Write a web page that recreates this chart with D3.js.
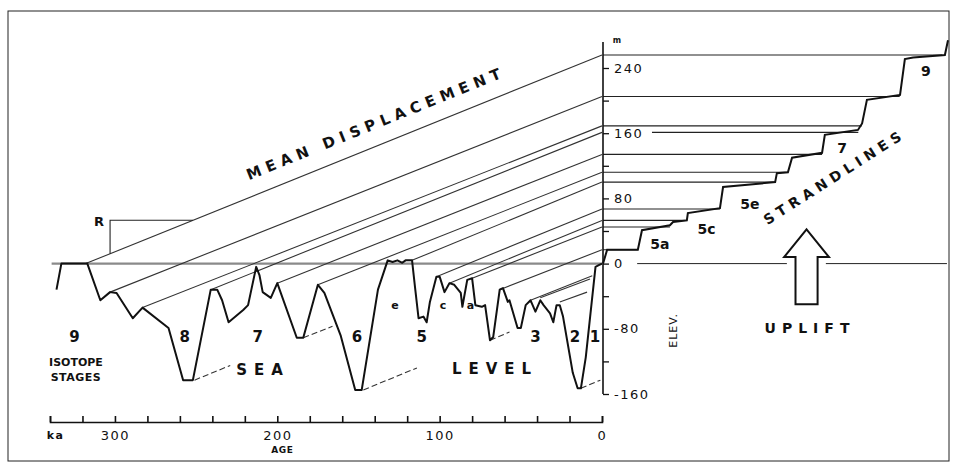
<!DOCTYPE html>
<html>
<head>
<meta charset="utf-8">
<script src="https://cdn.jsdelivr.net/npm/d3@7"></script>
<style>
  body { margin: 0; background: #fff; }
  text { font-family: "DejaVu Sans", sans-serif; fill: #111; }
</style>
</head>
<body>
<div id="chart"></div>
<script>

// sea level curve: age (ka) and elevation (m)
var curveAge  = [336,333,317,309,303,299,289,283,267,258, 252,241,237,234,230,221,218,213,211,209,
                 204,200,188,184,175,171,161,152,148,138, 132,129,126,123,121,117,115,113,110,108,
                 106,102,100,97,94,91,87,86,83,80, 78,74,72,69,67,63,61,58,57,52,
                 50,47,44,41,38,36,32,30,28,26, 24,18,15,13,10,4,2,0];
var curveElev = [-32,0,0,-45,-35,-36,-67,-54,-79,-143, -143,-32,-32,-45,-72,-57,-51,-4,-14,-35,
                 -42,-24,-91,-91,-26,-36,-88,-155,-155,-32, 4,2,4,1,4,4,-32,-67,-65,-72,
                 -47,-16,-16,-35,-24,-26,-36,-53,-20,-18, -51,-53,-51,-94,-90,-32,-30,-47,-45,-79,
                 -79,-51,-45,-59,-45,-51,-61,-72,-51,-51, -65,-134,-153,-153,-115,-4,-2,0];

// mean displacement lines: start on the curve, end on the axis at the strandline height
var lineStartAge  = [318, 303, 283, 241, 200, 175, 117, 102, 94, 80, 63];
var lineStartElev = [0, -35, -54, -32, -24, -26, 4, -16, -24, -18, -32];
var strandElev    = [256, 205, 169, 161, 134, 112, 100, 67, 53, 45, 17];
// strandlines on the right (distance units 0-100)
var strandStart   = [0, 0, 0, 14.2, 0, 0, 0, 0, 0, 0, 0];
var strandEnd     = [98.3, 86, 75, 74, 63.5, 53.6, 49.9, 33.9, 24.3, 19.4, 10.1];

// short lines that stop on the stage 1 rise
var shortStartAge  = [44, 38, 26];
var shortStartElev = [-45, -42, -47];
var shortEndAge    = [6, 7.4, 9.2];
var shortEndElev   = [-15, -19, -35];

// dashed lines from the lowstands
var dashStartAge  = [251, 184, 147, 69, 13];
var dashStartElev = [-143, -91, -155, -94, -153];
var dashEndAge    = [229, 166, 114, 57, 1];
var dashEndElev   = [-125, -77, -128, -84, -143];

// uplifted terrace profile (distance 0-100, elevation m)
var profDist = [0, 1.2, 10.1, 11.3, 19.4, 20.3, 24.3, 24.6, 33.9, 34.8, 49.9, 50.4, 53.6, 54.8,
                63.5, 64.3, 73.9, 75.1, 76.5, 86.1, 87.5, 89.9, 99.1, 100];
var profElev = [0, 17, 17, 41, 47, 51, 53, 62, 68, 94, 100, 111, 112, 130,
                136, 158, 164, 172, 201, 207, 251, 253, 256, 274];

// labels
var stageLabels = ['9', '8', '7', '6', '5', '3', '2', '1'];
var stageAge    = [325, 257, 212, 151, 111, 41, 16.6, 4.3];
var subLabels   = ['e', 'c', 'a'];
var subAge      = [127.5, 98, 81];
var rightLabels = ['9', '7', '5e', '5c', '5a'];
var rightDist   = [93.6, 69.3, 42.6, 30, 16.5];
var rightElev   = [237, 143, 74, 44, 25];
var ageTicks  = d3.range(340, -1, -20);
var elevTicks = d3.range(-160, 241, 40);

var width = 958, height = 468;

var x  = d3.scaleLinear().domain([340, 0]).range([50, 602]);
var y  = d3.scaleLinear().domain([-160, 240]).range([394, 68]);
var xd = d3.scaleLinear().domain([0, 100]).range([603, 948]);

var svg = d3.select('#chart')
    .append('svg')
    .attr('width', width)
    .attr('height', height);

// frame
svg.append('rect')
    .attr('x', 8).attr('y', 11)
    .attr('width', 941).attr('height', 450)
    .attr('fill', 'none')
    .attr('stroke', '#222')
    .attr('stroke-width', 1);

// zero line
svg.append('line')
    .attr('x1', x(339)).attr('x2', x(0))
    .attr('y1', y(0)).attr('y2', y(0))
    .attr('stroke', '#8a8a8a')
    .attr('stroke-width', 2.2);
[[9.9, 53.3], [64.6, 99.7]].forEach(function (s) {
    svg.append('line')
        .attr('x1', xd(s[0])).attr('x2', xd(s[1]))
        .attr('y1', y(0)).attr('y2', y(0))
        .attr('stroke', '#222')
        .attr('stroke-width', 1);
});

// mean displacement lines
svg.selectAll('.disp')
    .data(lineStartAge)
    .enter()
    .append('line')
    .attr('x1', (d) => x(d))
    .attr('y1', (d, i) => y(lineStartElev[i]))
    .attr('x2', x(0))
    .attr('y2', (d, i) => y(strandElev[i]))
    .attr('stroke', '#333')
    .attr('stroke-width', 1.1);

svg.selectAll('.short')
    .data(shortStartAge)
    .enter()
    .append('line')
    .attr('x1', (d) => x(d))
    .attr('y1', (d, i) => y(shortStartElev[i]))
    .attr('x2', (d, i) => x(shortEndAge[i]))
    .attr('y2', (d, i) => y(shortEndElev[i]))
    .attr('stroke', '#333')
    .attr('stroke-width', 1.1);

svg.selectAll('.dash')
    .data(dashStartAge)
    .enter()
    .append('line')
    .attr('x1', (d) => x(d))
    .attr('y1', (d, i) => y(dashStartElev[i]))
    .attr('x2', (d, i) => x(dashEndAge[i]))
    .attr('y2', (d, i) => y(dashEndElev[i]))
    .attr('stroke', '#333')
    .attr('stroke-width', 1.1)
    .attr('stroke-dasharray', '6,3');

// strandlines
svg.selectAll('.strand')
    .data(strandElev)
    .enter()
    .append('line')
    .attr('x1', (d, i) => xd(strandStart[i]))
    .attr('x2', (d, i) => xd(strandEnd[i]))
    .attr('y1', (d) => y(d))
    .attr('y2', (d) => y(d))
    .attr('stroke', '#222')
    .attr('stroke-width', 1.1);

// R bracket on the top line
var topLine = d3.scaleLinear().domain([lineStartAge[0], 0]).range([lineStartElev[0], strandElev[0]]);
svg.append('path')
    .attr('d', d3.line()([[x(303), y(topLine(303))], [x(303), y(topLine(252))], [x(252), y(topLine(252))]]))
    .attr('fill', 'none')
    .attr('stroke', '#222')
    .attr('stroke-width', 1.1);
svg.append('text')
    .attr('x', x(303) - 6).attr('y', y(topLine(252)) + 6)
    .attr('text-anchor', 'end')
    .style('font-size', '13px')
    .style('font-weight', 'bold')
    .text('R');

// sea level curve
var curveLine = d3.line()
    .x((d, i) => x(curveAge[i]))
    .y((d, i) => y(curveElev[i]));
svg.append('path')
    .attr('d', curveLine(curveAge))
    .attr('fill', 'none')
    .attr('stroke', '#111')
    .attr('stroke-width', 2)
    .attr('stroke-linejoin', 'round');

// terrace profile
var profLine = d3.line()
    .x((d, i) => xd(profDist[i]))
    .y((d, i) => y(profElev[i]));
svg.append('path')
    .attr('d', profLine(profDist))
    .attr('fill', 'none')
    .attr('stroke', '#111')
    .attr('stroke-width', 2);

// age axis
var ageAxis = d3.axisBottom(x)
    .tickValues(ageTicks)
    .tickSize(-6)
    .tickPadding(9)
    .tickFormat((d) => d === 340 ? 'ka' : (d % 100 === 0 ? d : ''));
var ga = svg.append('g')
    .attr('transform', 'translate(0,422)')
    .call(ageAxis);
ga.selectAll('path, line').attr('stroke', '#111').attr('stroke-width', 1.6);
ga.selectAll('text')
    .style('font-size', '13px')
    .style('letter-spacing', '1.5px')
    .style('font-family', '"DejaVu Sans", sans-serif')
    .attr('fill', '#111');
ga.selectAll('text').filter((d) => d === 340).attr('x', 5).style('font-size', '11px').style('font-weight', 'bold');

svg.append('text')
    .attr('x', x(200) + 5).attr('y', 453)
    .attr('text-anchor', 'middle')
    .style('font-size', '9px')
    .style('font-weight', 'bold')
    .style('letter-spacing', '0.5px')
    .text('AGE');

// elevation axis
var elevAxis = d3.axisRight(y)
    .tickValues(elevTicks)
    .tickSize(6)
    .tickPadding(5)
    .tickFormat((d) => d % 80 === 0 ? (d < 0 ? '-' + (-d) : d) : '');
var ge = svg.append('g')
    .attr('transform', 'translate(' + (x(0) + 1) + ',0)')
    .call(elevAxis);
ge.select('.domain').remove();
ge.selectAll('line').attr('stroke', '#111').attr('stroke-width', 1.3);
ge.selectAll('text')
    .style('font-size', '13px')
    .style('letter-spacing', '1.5px')
    .style('font-family', '"DejaVu Sans", sans-serif')
    .attr('fill', '#111');
svg.append('line')
    .attr('x1', x(0) + 1).attr('x2', x(0) + 1)
    .attr('y1', y(-160)).attr('y2', y(272))
    .attr('stroke', '#111')
    .attr('stroke-width', 1.6);
svg.append('text')
    .attr('x', x(0) + 15).attr('y', y(272) + 1)
    .attr('text-anchor', 'middle')
    .style('font-size', '8px')
    .style('font-weight', 'bold')
    .text('m');
svg.append('text')
    .attr('transform', 'translate(' + (x(0) + 75) + ',' + y(-82) + ') rotate(-90)')
    .attr('text-anchor', 'middle')
    .style('font-size', '11px')
    .style('letter-spacing', '1px')
    .text('ELEV.');

// stage labels
svg.selectAll('.stage')
    .data(stageLabels)
    .enter()
    .append('text')
    .attr('x', (d, i) => x(stageAge[i]))
    .attr('y', y(-89) + 6)
    .attr('text-anchor', 'middle')
    .style('font-size', '15px')
    .style('font-weight', 'bold')
    .text((d) => d);
svg.selectAll('.sub')
    .data(subLabels)
    .enter()
    .append('text')
    .attr('x', (d, i) => x(subAge[i]))
    .attr('y', y(-51) + 4)
    .attr('text-anchor', 'middle')
    .style('font-size', '11px')
    .style('font-weight', 'bold')
    .text((d) => d);
svg.selectAll('.right')
    .data(rightLabels)
    .enter()
    .append('text')
    .attr('x', (d, i) => xd(rightDist[i]))
    .attr('y', (d, i) => y(rightElev[i]) + 6)
    .attr('text-anchor', 'middle')
    .style('font-size', '14px')
    .style('font-weight', 'bold')
    .text((d) => d);

svg.append('text')
    .attr('x', x(324)).attr('y', 366)
    .attr('text-anchor', 'middle')
    .style('font-size', '11px')
    .style('font-weight', 'bold')
    .text('ISOTOPE');
svg.append('text')
    .attr('x', x(324)).attr('y', 381)
    .attr('text-anchor', 'middle')
    .style('font-size', '11px')
    .style('font-weight', 'bold')
    .style('letter-spacing', '0.5px')
    .text('STAGES');

svg.append('text')
    .attr('x', 263).attr('y', 375)
    .attr('text-anchor', 'middle')
    .style('font-size', '15px')
    .style('font-weight', 'bold')
    .style('letter-spacing', '7px')
    .text('SEA');
svg.append('text')
    .attr('x', 495).attr('y', 374)
    .attr('text-anchor', 'middle')
    .style('font-size', '15px')
    .style('font-weight', 'bold')
    .style('letter-spacing', '7px')
    .text('LEVEL');

// rotated titles
var slopeAngle = Math.atan2(y(lineStartElev[0]) - y(strandElev[0]), x(0) - x(lineStartAge[0])) * 180 / Math.PI;
svg.append('text')
    .attr('transform', 'translate(378,128) rotate(' + (-slopeAngle) + ')')
    .attr('text-anchor', 'middle')
    .style('font-size', '15px')
    .style('font-weight', 'bold')
    .style('letter-spacing', '5.5px')
    .text('MEAN DISPLACEMENT');
svg.append('text')
    .attr('transform', 'translate(837,181) rotate(-32.5)')
    .attr('text-anchor', 'middle')
    .style('font-size', '14px')
    .style('font-weight', 'bold')
    .style('letter-spacing', '5px')
    .text('STRANDLINES');

svg.append('text')
    .attr('x', 810).attr('y', 333)
    .attr('text-anchor', 'middle')
    .style('font-size', '14px')
    .style('font-weight', 'bold')
    .style('letter-spacing', '6px')
    .text('UPLIFT');

// uplift arrow
var ac = 59, hw = 6.5, sw = 3.2;
svg.append('path')
    .attr('d', d3.line()([
        [xd(ac), y(42)], [xd(ac + hw), y(8)], [xd(ac + sw), y(8)], [xd(ac + sw), y(-50)],
        [xd(ac - sw), y(-50)], [xd(ac - sw), y(8)], [xd(ac - hw), y(8)]]) + 'Z')
    .attr('fill', '#fff')
    .attr('stroke', '#111')
    .attr('stroke-width', 2)
    .attr('stroke-linejoin', 'miter');

</script>
</body>
</html>
